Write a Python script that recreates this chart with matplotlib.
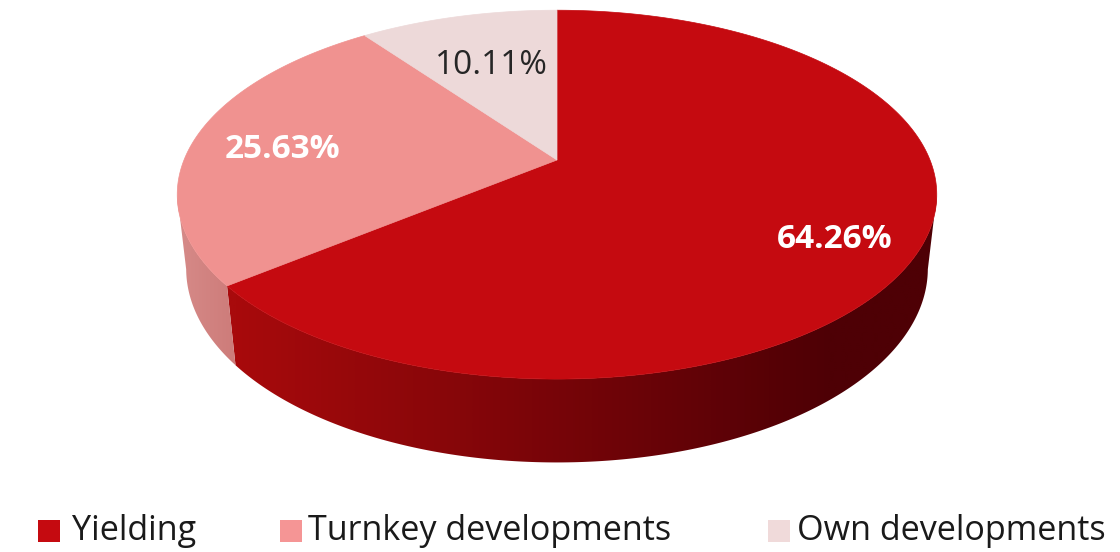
import numpy as np
import matplotlib
matplotlib.use("Agg")
import matplotlib.pyplot as plt
from matplotlib.patches import Polygon, Rectangle
from matplotlib.colors import LinearSegmentedColormap

# ---- data ----
categories = ["Yielding", "Turnkey developments", "Own developments"]
shares = [64.26, 25.63, 10.11]
labels = ["64.26%", "25.63%", "10.11%"]

top_colors = ["#C50A10", "#F09290", "#EDD9D9"]
legend_colors = ["#C50A10", "#F59595", "#F0DADA"]
side_grad = [("#A80A0C", "#4E0005"), ("#D68A88", "#CC7A78"), ("#D7BEBE", "#D7BEBE")]

# ---- 3D projection parameters (pixel space) ----
CX, CY, K = 557.0, 160.0, 373.0
SIN_E = 0.477
COS_E = np.sqrt(1 - SIN_E ** 2)
D = 4.68
H = 0.228


def proj(phi_deg, y, r=1.0):
    p = np.radians(phi_deg)
    x = r * np.sin(p)
    z = -r * np.cos(p)
    yp = y * COS_E - z * SIN_E
    zp = y * SIN_E + z * COS_E
    s = D / (D - zp)
    return CX + K * x * s, CY - K * yp * s, zp


fig = plt.figure(figsize=(11.2, 5.52), dpi=100)
ax = fig.add_axes([0, 0, 1, 1])
ax.set_xlim(0, 1120)
ax.set_ylim(552, 0)
ax.axis("off")

fracs = np.array(shares) / sum(shares)
bounds = np.concatenate([[0], np.cumsum(fracs) * 360])

# silhouette angles of the cylinder (extreme left / right of the top rim)
grid = np.linspace(0, 360, 3601)
tx = np.array([proj(p, 0)[0] for p in grid])
phi_R = grid[np.argmax(tx)]
phi_L = grid[np.argmin(tx)]

# side walls (visible between the right and left silhouettes)
for i in range(len(shares)):
    a0, a1 = max(bounds[i], phi_R), min(bounds[i + 1], phi_L)
    if a1 <= a0:
        continue
    ph = np.linspace(a0, a1, 400)
    top = [proj(p, 0)[:2] for p in ph]
    bot = [proj(p, -H)[:2] for p in ph[::-1]]
    pts = np.array(top + bot)
    poly = Polygon(pts, closed=True, facecolor="none", edgecolor="none")
    ax.add_patch(poly)
    xmin, xmax = pts[:, 0].min(), pts[:, 0].max()
    ymin, ymax = pts[:, 1].min(), pts[:, 1].max()
    cmap = LinearSegmentedColormap.from_list("g%d" % i, list(side_grad[i]))
    if i == 0:
        g0, g1 = 235, 830
    else:
        g0, g1 = 180, 240
    xs = np.linspace(xmin, xmax, 600)
    t = np.clip((xs - g0) / (g1 - g0), 0, 1)
    img = ax.imshow(np.tile(t, (2, 1)), cmap=cmap, vmin=0, vmax=1,
                    extent=(xmin - 1, xmax + 1, ymax + 1, ymin - 1),
                    aspect="auto", interpolation="bilinear", zorder=1)
    img.set_clip_path(poly)

ax.set_xlim(0, 1120)
ax.set_ylim(552, 0)

# top faces
for i in range(len(shares)):
    a0, a1 = bounds[i], bounds[i + 1]
    ph = np.linspace(a0, a1, 300)
    cxp, cyp, _ = proj(0, 0, r=0.0)
    pts = [(cxp, cyp)]
    for p in ph:
        x, y, _ = proj(p, 0)
        pts.append((x, y))
    ax.add_patch(Polygon(pts, closed=True, facecolor=top_colors[i],
                         edgecolor=top_colors[i], linewidth=0.5, zorder=2))

# data labels
lab_pos = [(835, 240), (283, 150), (491, 66)]
lab_col = ["white", "white", "#262626"]
lab_w = ["bold", "bold", "normal"]
for i in range(len(shares)):
    ax.text(lab_pos[i][0], lab_pos[i][1], labels[i], color=lab_col[i],
            fontsize=24, fontweight=lab_w[i], family="Open Sans",
            ha="center", va="center", zorder=3)

# legend
leg_sq_x = [38, 280, 768]
leg_txt_x = [72, 308, 797]
for i in range(len(categories)):
    ax.add_patch(Rectangle((leg_sq_x[i], 520), 22, 22,
                           facecolor=legend_colors[i], edgecolor="none"))
    ax.text(leg_txt_x[i], 531, categories[i], color="#1A1A1A",
            fontsize=24.6, family="Open Sans", ha="left", va="center")

fig.savefig("out.png", dpi=100)
